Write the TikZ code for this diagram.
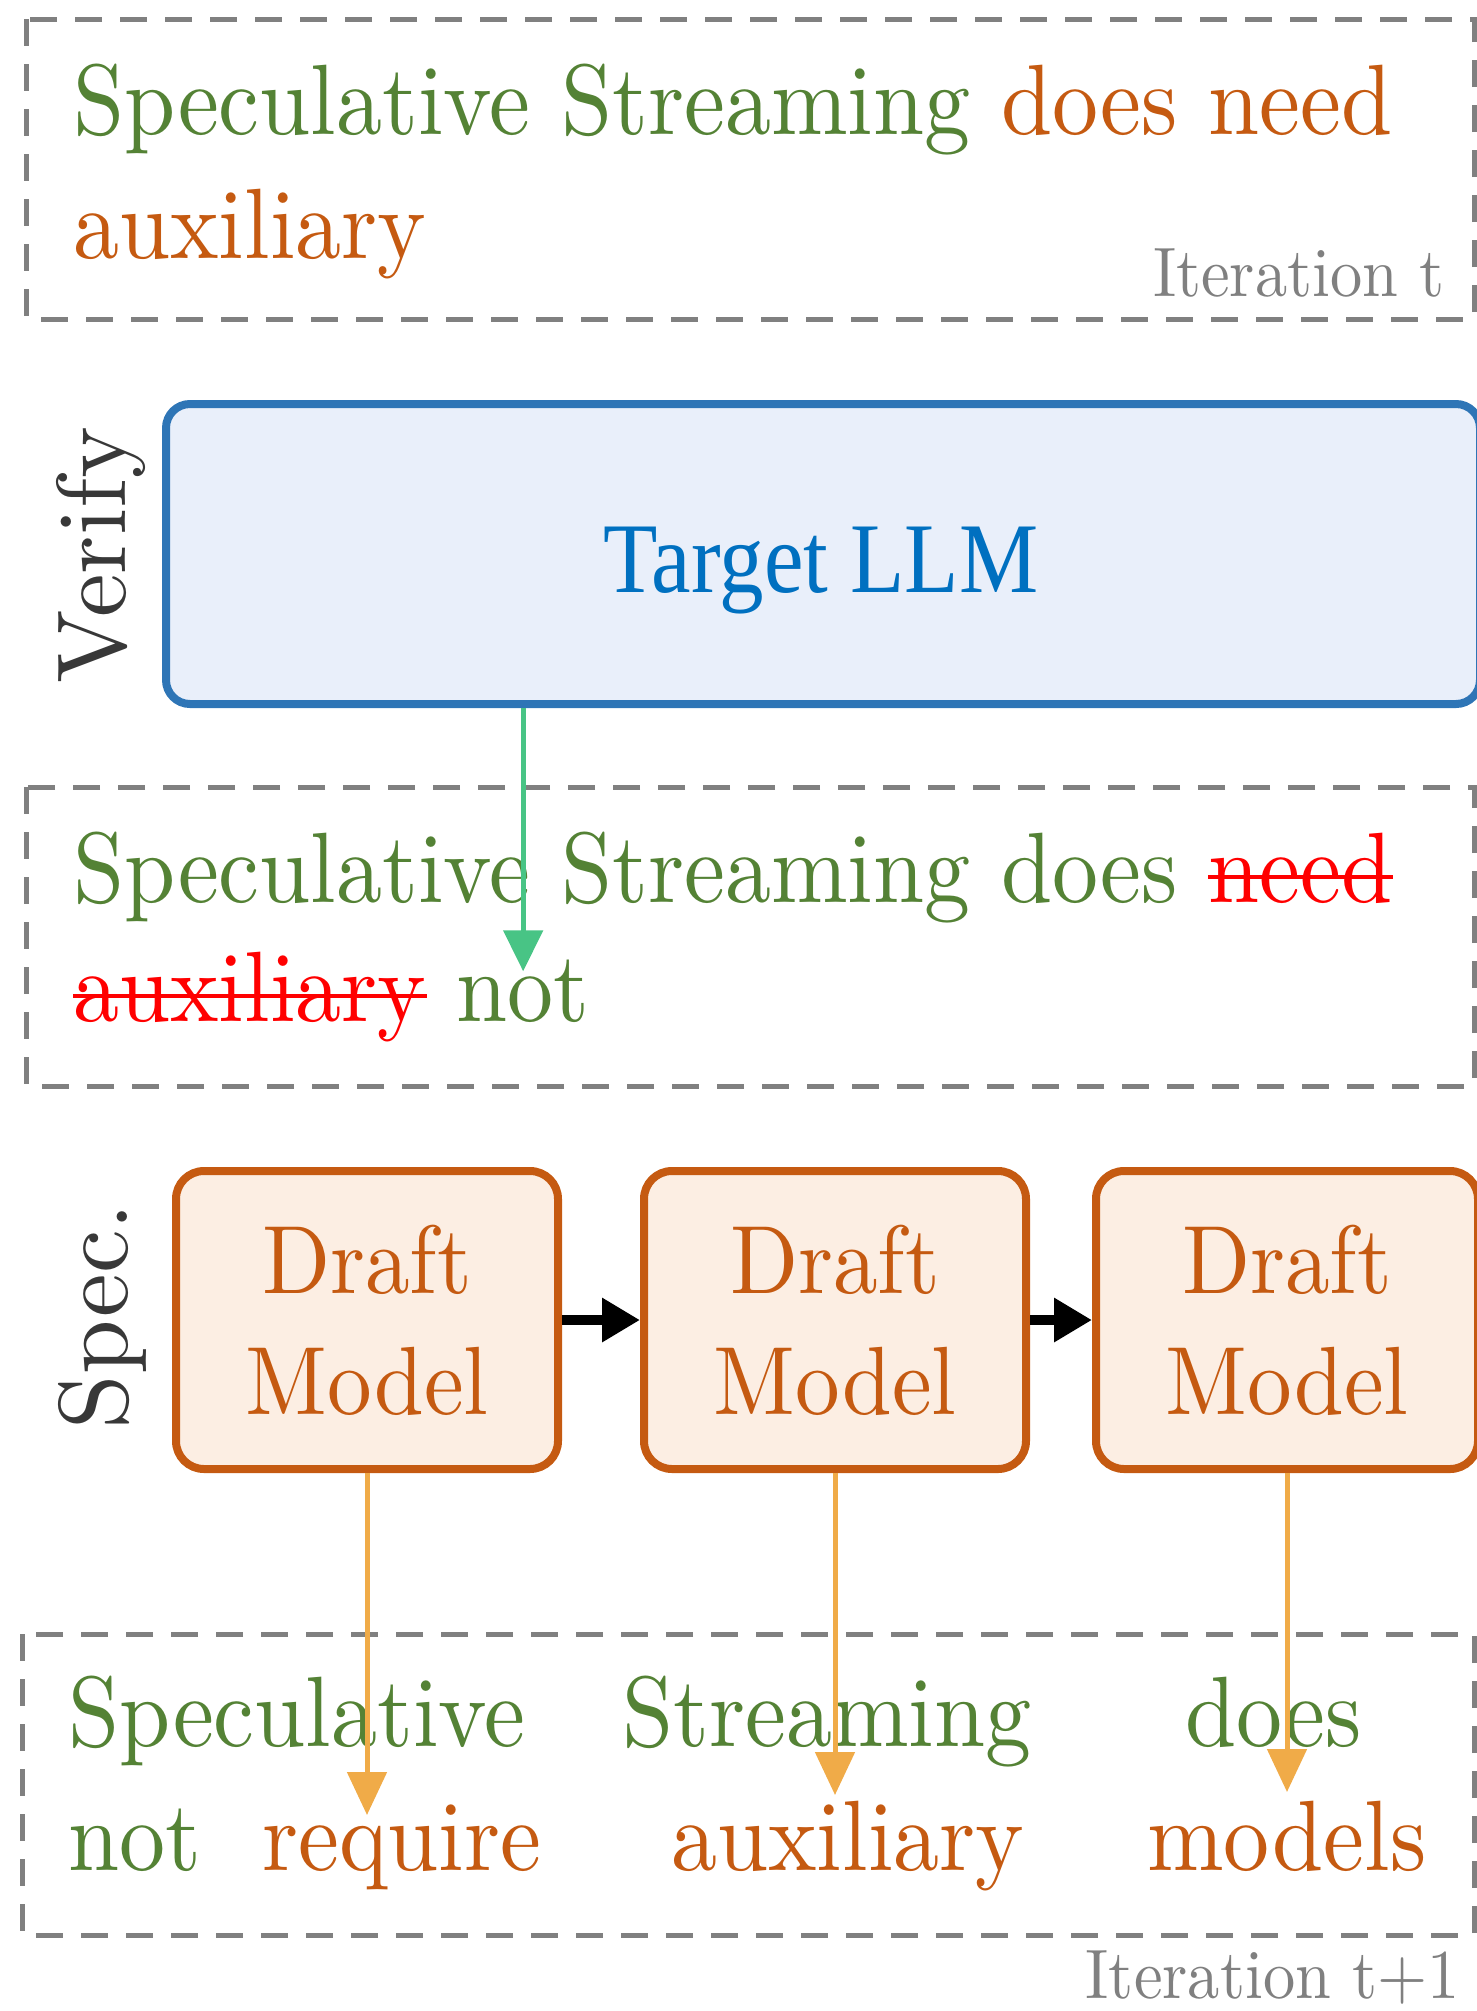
\documentclass[tikz,border=0pt]{standalone}
\usepackage{fontspec}
\usetikzlibrary{arrows.meta,positioning}

\setmainfont{lmroman10-regular.otf}[FakeStretch=0.92]
\newfontfamily\stagefont{lmroman10-regular.otf}
\newfontfamily\llmfont{Liberation Serif}[FakeStretch=0.89]

\definecolor{specgreen}{HTML}{548235}
\definecolor{specorange}{HTML}{C55A11}
\definecolor{llmblue}{HTML}{0070C0}
\definecolor{llmborder}{HTML}{2E75B6}
\definecolor{llmfill}{HTML}{E9EFFA}
\definecolor{draftfill}{HTML}{FCEEE3}
\definecolor{draftarrow}{HTML}{F0AB48}
\definecolor{verifygreen}{HTML}{48C485}
\definecolor{boxgray}{HTML}{808080}
\definecolor{stagegray}{HTML}{383838}

\tikzset{
  words/.style={font=\fontsize{100}{124}\selectfont, anchor=base west, inner sep=0pt},
  iterlabel/.style={font=\fontsize{70}{84}\selectfont, text=boxgray, anchor=base east, inner sep=0pt},
  stage/.style={font=\fontsize{98}{118}\stagefont, text=stagegray, rotate=90, anchor=base, inner sep=0pt},
  seqbox/.style={draw=boxgray, line width=5pt, dash pattern=on 27pt off 18pt},
  llmbox/.style={draw=llmborder, fill=llmfill, line width=8pt, rounded corners=24pt,
    minimum width=1314pt, minimum height=300pt},
  draftbox/.style={draw=specorange, fill=draftfill, line width=8pt, rounded corners=28pt,
    minimum width=382pt, minimum height=298pt, align=center, text=specorange,
    font=\fontsize{97}{121}\selectfont},
  greenarrow/.style={draw=verifygreen, line width=5pt, -{Triangle[length=41pt,width=39pt]}},
  orangearrow/.style={draw=draftarrow, line width=5pt, -{Triangle[length=43pt,width=39pt]}},
  chain/.style={draw=black, line width=10pt, -{Triangle[length=38pt,width=42pt]}},
  strike/.style={draw=red, line width=4.5pt}
}

\begin{document}
\begin{tikzpicture}[x=1pt,y=-1pt]
  \useasboundingbox (0,0) rectangle (1477,2011);
  \clip (0,0) rectangle (1477,2011);

  % iteration t
  \draw[seqbox] (26,19) rectangle (1474,319);
  \node[words] (topa) at (73,134) {\color{specgreen}Speculative Streaming \color{specorange}does need};
  \node[words, text=specorange] (topb) at (73,258) {auxiliary};
  \node[iterlabel] (itert) at (1445,296) {Iteration t};

  % verify
  \node[stage] (verify) at (125,555) {Verify};
  \node[llmbox] (target) at (823,554) {};
  \node[font=\fontsize{100}{120}\llmfont, text=llmblue, anchor=base, inner sep=0pt] (targetlbl) at (821,592) {Target LLM};

  % verified sequence
  \draw[seqbox] (26,787) rectangle (1474,1086);
  \node[words, text=specgreen] (mida) at (73,902) {Speculative Streaming does};
  \node[words, text=red, right=30pt of mida.base east, anchor=base west] (needw) {need};
  \node[words, text=red] (midaux) at (73,1021) {auxiliary};
  \node[words, text=specgreen, right=30pt of midaux.base east, anchor=base west] (notw) {not};
  \draw[strike] ([yshift=25pt]needw.base west) -- ([yshift=25pt]needw.base east);
  \draw[strike] ([yshift=25pt]midaux.base west) -- ([yshift=25pt]midaux.base east);
  \draw[greenarrow, shorten >=-12pt] (target.south -| notw.north) -- (notw.north);

  % speculate
  \node[stage] (spec) at (127,1316) {Spec.};
  \node[draftbox] (draft1) at (367,1320) {Draft\\Model};
  \node[draftbox, right=78pt of draft1] (draft2) {Draft\\Model};
  \node[draftbox, right=62pt of draft2] (draft3) {Draft\\Model};
  \draw[chain] (draft1) -- (draft2);
  \draw[chain] (draft2) -- (draft3);

  % iteration t+1
  \draw[seqbox] (22,1634) rectangle (1474,1935);
  \node[words, text=specgreen] (w1) at (68,1746) {Speculative};
  \node[words, text=specgreen] (w2) at (622,1746) {Streaming};
  \node[words, text=specgreen] (w3) at (1185,1746) {does};
  \node[words, text=specgreen] (w4) at (68,1870) {not};
  \node[words, text=specorange] (w5) at (262,1870) {require};
  \node[words, text=specorange] (w6) at (671,1870) {auxiliary};
  \node[words, text=specorange] (w7) at (1147,1870) {models};
  \node[iterlabel] (itert1) at (1460,1998) {Iteration t+1};

  \coordinate (tip1) at (367,1815);
  \coordinate (tip2) at (835,1795);
  \coordinate (tip3) at (1287,1792);
  \draw[orangearrow] (draft1.south) -- (tip1);
  \draw[orangearrow] (draft2.south) -- (draft2.south |- tip2);
  \draw[orangearrow] (draft3.south) -- (draft3.south |- tip3);
\end{tikzpicture}
\end{document}
